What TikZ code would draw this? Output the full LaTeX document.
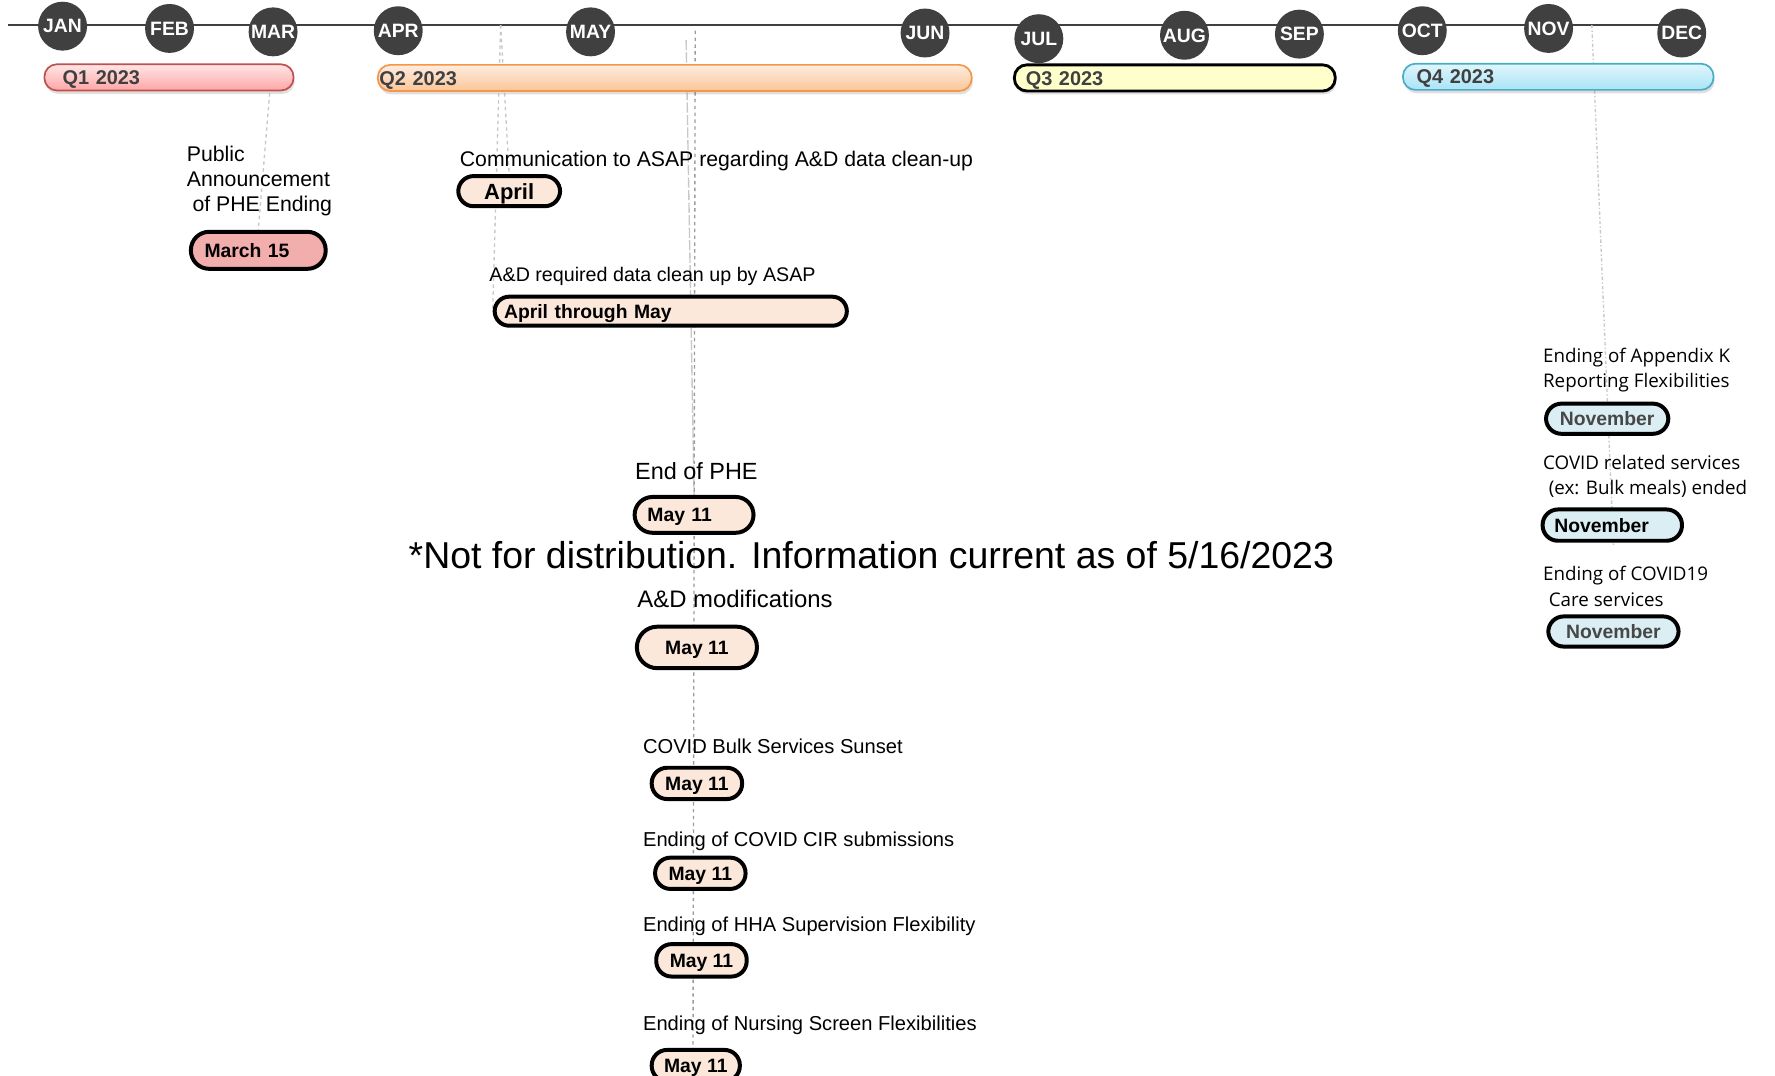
\documentclass[tikz,border=0pt]{standalone}
\usepackage{fontspec}
\setmainfont{Liberation Sans}
\newfontfamily\uifont{Open Sans}
\usepackage{tikz}
\usetikzlibrary{shadows}
\usetikzlibrary{backgrounds}
\usepackage{xcolor}

\definecolor{monthgray}{HTML}{404040}
\definecolor{q1line}{HTML}{C0504D}
\definecolor{q1top}{HTML}{FFE6E6}
\definecolor{q1bot}{HTML}{FFA6A6}
\definecolor{q2line}{HTML}{F79646}
\definecolor{q2top}{HTML}{FDEDE0}
\definecolor{q2bot}{HTML}{FBC597}
\definecolor{q3fill}{HTML}{FFFFCC}
\definecolor{q4line}{HTML}{4BACC6}
\definecolor{q4top}{HTML}{E0F6FC}
\definecolor{q4bot}{HTML}{A9E3F6}
\definecolor{peach}{HTML}{FCE8DA}
\definecolor{marchpink}{HTML}{F2ADAD}
\definecolor{novblue}{HTML}{DAEEF3}
\definecolor{novtext}{HTML}{474747}
\definecolor{guidegray}{HTML}{C8C8C8}
\definecolor{guidedark}{HTML}{9C9C9C}

\begin{document}
\begin{tikzpicture}[x=1pt, y=-1pt,
    month/.style={circle, fill=monthgray, text=white, inner sep=0pt, minimum size=43pt,
        text height=12pt, text depth=0pt, font=\fontsize{17}{17}\selectfont\bfseries},
    qbar/.style={line width=1.5pt, rounded corners=11pt, minimum height=23pt, inner ysep=0pt,
        align=left, text=monthgray, text height=12.5pt, text depth=0pt,
        font=\fontsize{17.5}{17.5}\selectfont\bfseries,
        drop shadow={shadow xshift=1pt, shadow yshift=-3pt, opacity=0.25}},
    pill/.style={draw=black, line width=3.5pt, fill=peach, inner sep=0pt, rounded corners=13.5pt,
        text height=12.2pt, text depth=0pt, font=\fontsize{17}{17}\selectfont\bfseries},
    lbl/.style 2 args={anchor=west, inner sep=0pt, text height=#2, text depth=0pt,
        font=\fontsize{#1}{#1}\selectfont},
    lblm/.style={anchor=north west, inner sep=0pt, align=left},
    guide/.style={draw=guidegray, dashed, line width=1.2pt},
    timeline/.style={draw=monthgray, line width=2.5pt}]
    \useasboundingbox (0,0) rectangle (1560,945);

    % months
    \node[month] (jan) at (55,23) {JAN};
    \node[month] (feb) at (149,25) {FEB};
    \node[month] (mar) at (240,28) {MAR};
    \node[month] (apr) at (350,27) {APR};
    \node[month] (may) at (519,28) {MAY};
    \node[month] (jun) at (813,29) {JUN};
    \node[month] (jul) at (913,34) {JUL};
    \node[month] (aug) at (1041,31) {AUG};
    \node[month] (sep) at (1142,30) {SEP};
    \node[month] (oct) at (1250,27) {OCT};
    \node[month] (nov) at (1361,25) {NOV};
    \node[month] (dec) at (1478,29) {DEC};

    % quarters
    \node[qbar, draw=q1line, top color=q1top, bottom color=q1bot, text width=187pt, inner xsep=16pt] (q1) at (148.5,68) {Q1 2023};
    \node[qbar, draw=q2line, top color=q2top, bottom color=q2bot, text width=519pt, inner xsep=1.5pt] (q2) at (593,68.5) {Q2 2023};
    \node[qbar, draw=black, line width=2.5pt, fill=q3fill, text width=262pt, inner xsep=10pt] (q3) at (1032.5,68.5) {Q3 2023};
    \node[qbar, draw=q4line, top color=q4top, bottom color=q4bot, text width=249pt, inner xsep=12pt] (q4) at (1369.5,67.5) {Q4 2023};

    % labels
    \node[lblm, font=\fontsize{18.7}{22}\selectfont] (phelbl) at (164,128) {Public\\Announcement\\\hspace*{5pt}of PHE Ending};
    \node[lbl={18.65}{13.4pt}] (commlbl) at (404,140) {Communication to ASAP regarding A\&D data clean-up};
    \node[lbl={17.3}{12.4pt}] (cleanlbl) at (430,241) {A\&D required data clean up by ASAP};
    \node[lbl={20.6}{14.8pt}] (endlbl) at (558,414) {End of PHE};
    \node[lbl={32.9}{23.6pt}] (notelbl) at (359,488) {*Not for distribution. Information current as of 5/16/2023};
    \node[lbl={21}{15pt}] (modlbl) at (560,526) {A\&D modifications};
    \node[lbl={17.7}{12.7pt}] (bulklbl) at (565,656) {COVID Bulk Services Sunset};
    \node[lbl={17.7}{12.7pt}] (cirlbl) at (565,738) {Ending of COVID CIR submissions};
    \node[lbl={17.7}{12.7pt}] (hhalbl) at (565,812) {Ending of HHA Supervision Flexibility};
    \node[lbl={17.7}{12.7pt}] (nurselbl) at (565,899) {Ending of Nursing Screen Flexibilities};
    \node[lblm, font=\uifont\fontsize{16.5}{22}\selectfont] (applbl) at (1356,306) {Ending of Appendix K\\Reporting Flexibilities};
    \node[lblm, font=\uifont\fontsize{16.5}{22}\selectfont] (covlbl) at (1356,400) {COVID related services\\\hspace*{5pt}(ex: Bulk meals) ended};
    \node[lblm, font=\uifont\fontsize{16.5}{23}\selectfont] (carelbl) at (1356,497) {Ending of COVID19\\\hspace*{5pt}Care services};

    % dates
    \node[pill, fill=marchpink, minimum height=32.5pt, rounded corners=16pt, text width=94.5pt, inner xsep=12pt, align=left] (march) at (227,220) {March 15};
    \node[pill, minimum width=89.5pt, minimum height=26.5pt, font=\fontsize{19.3}{19.3}\selectfont\bfseries, text height=13.8pt] (april) at (447.5,168) {April};
    \node[pill, minimum height=25.5pt, rounded corners=12.7pt, text width=293pt, inner xsep=8.25pt, align=left] (aprmay) at (589.5,273.5) {April through May};
    \node[pill, minimum height=31.5pt, rounded corners=15.7pt, text width=82pt, inner xsep=11.25pt, align=left] (endpill) at (610,452.5) {May 11};
    \node[pill, minimum width=105.5pt, minimum height=36.5pt, rounded corners=18pt] (modpill) at (612.5,569) {May 11};
    \node[pill, minimum width=79.5pt, minimum height=27.5pt] (bulkpill) at (612.5,688.5) {May 11};
    \node[pill, minimum width=79.5pt, minimum height=27.5pt] (cirpill) at (615.5,767.5) {May 11};
    \node[pill, minimum width=79.5pt, minimum height=28.5pt] (hhapill) at (616.5,844) {May 11};
    \node[pill, minimum width=77.5pt, minimum height=27.5pt] (nursepill) at (611.5,936.5) {May 11};
    \node[pill, fill=novblue, text=novtext, minimum width=107.5pt, minimum height=26.5pt] (novpill) at (1412.5,368) {November};
    \node[pill, fill=novblue, minimum height=27.5pt, text width=102pt, inner xsep=10.25pt, align=left] (covpill) at (1417,461.5) {November};
    \node[pill, fill=novblue, text=novtext, minimum width=114.5pt, minimum height=26.5pt] (carepill) at (1418,555) {November};

    % guides
    \coordinate (tlstart) at (7,22);
    \coordinate (q1drop) at (237,82);
    \coordinate (aprtop) at (440,22);
    \coordinate (maytopa) at (603,35);
    \coordinate (maytopb) at (611,27);
    \coordinate (maybot) at (609,945);
    \coordinate (novtop) at (1399,22);
    \coordinate (novbot) at (1418,480);
    \begin{scope}[on background layer]
        \draw[timeline] (tlstart) -- (tlstart -| dec);
        \draw[guide] (q1drop) -- (march.north);
        \draw[guide] (aprtop) -- (aprmay.west);
        \draw[guide] (aprtop) -- (april.north);
        \draw[guide, dash pattern=on 9pt off 2pt] (maytopa) -- (endpill.north);
        \draw[guide, draw=guidedark] (maytopb) -- (maybot);
        \draw[guide, dash dot] (novtop) -- (novbot);
    \end{scope}
\end{tikzpicture}
\end{document}
